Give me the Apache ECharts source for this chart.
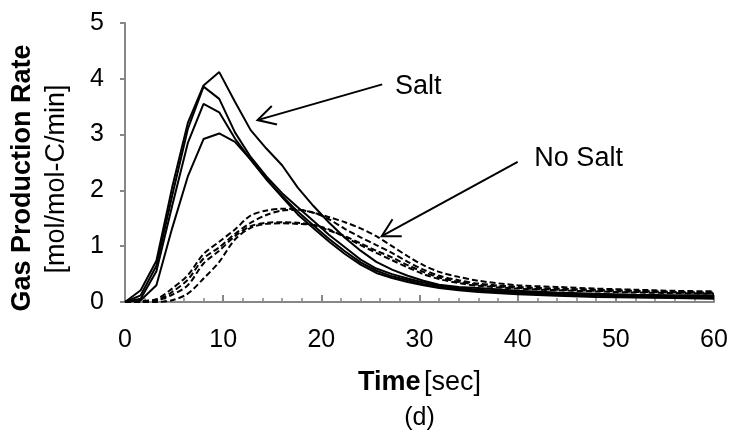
<!DOCTYPE html>
<html>
<head>
<meta charset="utf-8">
<script src="https://cdn.jsdelivr.net/npm/echarts@6/dist/echarts.min.js"></script>
<style>
  html, body { margin: 0; padding: 0; background: #fff; }
  #chart { width: 732px; height: 434px; }
</style>
</head>
<body>
<div id="chart"></div>
<script>
// sample times [sec]
const times = [0, 1.6, 3.2, 4.8, 6.4, 8, 9.6, 11.2, 12.8, 14.4, 16, 17.6, 19.2, 20.8, 22.4,
  24, 25.6, 27.2, 28.8, 30.4, 32, 34, 36, 40, 44, 48, 52, 56, 60];

// Salt runs (solid)
const salt1 = [0, 0.21, 0.74, 2.05, 3.21, 3.88, 4.12, 3.59, 3.08, 2.75, 2.45, 2.05, 1.72, 1.42, 1.15,
  0.92, 0.72, 0.58, 0.47, 0.38, 0.31, 0.27, 0.25, 0.2, 0.17, 0.15, 0.13, 0.12, 0.12];
const salt2 = [0, 0.12, 0.65, 1.9, 3.1, 3.86, 3.64, 3.04, 2.6, 2.25, 1.95, 1.7, 1.45, 1.2, 0.98,
  0.76, 0.6, 0.5, 0.42, 0.35, 0.29, 0.25, 0.22, 0.18, 0.15, 0.13, 0.11, 0.1, 0.1];
const salt3 = [0, 0.06, 0.55, 1.72, 2.85, 3.55, 3.4, 2.93, 2.55, 2.2, 1.9, 1.62, 1.37, 1.13, 0.91,
  0.71, 0.56, 0.46, 0.39, 0.32, 0.27, 0.23, 0.2, 0.16, 0.13, 0.11, 0.09, 0.08, 0.08];
const salt4 = [0, 0.03, 0.3, 1.32, 2.25, 2.92, 3.02, 2.87, 2.55, 2.2, 1.88, 1.57, 1.32, 1.08, 0.86,
  0.67, 0.52, 0.43, 0.36, 0.3, 0.25, 0.21, 0.18, 0.14, 0.11, 0.09, 0.08, 0.07, 0.06];

// No Salt runs (dashed)
const noSalt1 = [0, 0.02, 0.05, 0.24, 0.48, 0.86, 1.08, 1.3, 1.55, 1.64, 1.67, 1.66, 1.6, 1.52, 1.43,
  1.32, 1.18, 1.0, 0.82, 0.66, 0.54, 0.45, 0.38, 0.3, 0.27, 0.24, 0.22, 0.2, 0.19];
const noSalt2 = [0, 0.01, 0.03, 0.18, 0.4, 0.78, 0.98, 1.22, 1.42, 1.56, 1.64, 1.65, 1.6, 1.48, 1.31,
  1.16, 1.02, 0.88, 0.72, 0.58, 0.47, 0.39, 0.33, 0.27, 0.24, 0.22, 0.2, 0.18, 0.17];
const noSalt3 = [0, 0, 0.02, 0.13, 0.3, 0.69, 0.92, 1.18, 1.36, 1.42, 1.43, 1.42, 1.38, 1.28, 1.18,
  1.05, 0.92, 0.8, 0.66, 0.54, 0.44, 0.36, 0.31, 0.25, 0.22, 0.2, 0.18, 0.17, 0.16];
const noSalt4 = [0, 0, 0, 0.03, 0.15, 0.42, 0.72, 1.12, 1.33, 1.4, 1.41, 1.4, 1.38, 1.3, 1.16,
  1.02, 0.88, 0.75, 0.62, 0.5, 0.41, 0.34, 0.29, 0.24, 0.21, 0.19, 0.17, 0.16, 0.15];

const xTicks = [0, 10, 20, 30, 40, 50, 60];
const yTicks = [0, 1, 2, 3, 4, 5];

const FONT = "'Liberation Sans', Arial, sans-serif";
const AXIS_GRAY = '#878787';

const chart = echarts.init(document.getElementById('chart'));

function pairs(arr) {
  return times.map((t, i) => [t, arr[i]]);
}

function solid(name, arr) {
  return {
    name: name, type: 'line', data: pairs(arr), symbol: 'none',
    lineStyle: { color: '#000', width: 2 }, z: 3
  };
}
function dashed(name, arr) {
  return {
    name: name, type: 'line', data: pairs(arr), symbol: 'none', smooth: 0.3,
    lineStyle: { color: '#000', width: 2, type: [6, 3] }, z: 2
  };
}

var option = {
  animation: false,
  backgroundColor: '#fff',
  grid: { left: 125, right: 18, top: 23, bottom: 132 },
  xAxis: {
    type: 'value',
    min: xTicks[0], max: xTicks[xTicks.length - 1], interval: 10,
    axisLine: { lineStyle: { color: AXIS_GRAY, width: 2 } },
    axisTick: { inside: true, length: 7, lineStyle: { color: AXIS_GRAY, width: 2 } },
    minorTick: { show: true, splitNumber: 5, length: 4, lineStyle: { color: AXIS_GRAY, width: 1.5 } },
    splitLine: { show: false },
    axisLabel: { color: '#000', fontSize: 25, fontFamily: FONT, margin: 26 }
  },
  yAxis: {
    type: 'value',
    min: yTicks[0], max: yTicks[yTicks.length - 1], interval: 1,
    axisLine: { show: true, lineStyle: { color: AXIS_GRAY, width: 2 } },
    axisTick: { show: true, length: 5, lineStyle: { color: AXIS_GRAY, width: 2 } },
    splitLine: { show: false },
    axisLabel: { color: '#000', fontSize: 25, fontFamily: FONT, margin: 21 }
  },
  series: [
    dashed('No Salt 1', noSalt1), dashed('No Salt 2', noSalt2),
    dashed('No Salt 3', noSalt3), dashed('No Salt 4', noSalt4),
    solid('Salt 1', salt1), solid('Salt 2', salt2),
    solid('Salt 3', salt3), solid('Salt 4', salt4)
  ]
};
chart.setOption(option);

// annotation arrows, anchored in data coordinates
function arrow(from, tip) {
  const a = chart.convertToPixel({ gridIndex: 0 }, from);
  const b = chart.convertToPixel({ gridIndex: 0 }, tip);
  const ang = Math.atan2(a[1] - b[1], a[0] - b[0]);
  const L = 20, spread = 0.5;
  const h1 = [b[0] + L * Math.cos(ang + spread), b[1] + L * Math.sin(ang + spread)];
  const h2 = [b[0] + L * Math.cos(ang - spread), b[1] + L * Math.sin(ang - spread)];
  return [
    { type: 'line', shape: { x1: a[0], y1: a[1], x2: b[0], y2: b[1] }, style: { stroke: '#000', lineWidth: 2 } },
    { type: 'polyline', shape: { points: [h1, b, h2] }, style: { stroke: '#000', lineWidth: 2, fill: null } }
  ];
}
function label(pos, txt) {
  const p = chart.convertToPixel({ gridIndex: 0 }, pos);
  return {
    type: 'text', x: p[0], y: p[1],
    style: { text: txt, font: '27px ' + FONT, fill: '#000', textAlign: 'left', textVerticalAlign: 'middle' }
  };
}

const gridMidX = 125 + (732 - 125 - 18) / 2;

chart.setOption({
  graphic: [].concat(
    arrow([26.2, 3.9], [13.5, 3.26]),
    arrow([40.0, 2.51], [26.15, 1.18]),
    [
      label([27.5, 3.86], 'Salt'),
      label([41.7, 2.57], 'No Salt'),
      {
        type: 'text', x: 23, y: 178, rotation: Math.PI / 2,
        style: { text: 'Gas Production Rate', font: 'bold 27px ' + FONT, fill: '#000', textAlign: 'center', textVerticalAlign: 'middle' }
      },
      {
        type: 'text', x: 57, y: 179, rotation: Math.PI / 2,
        style: { text: '[mol/mol-C/min]', font: '27px ' + FONT, fill: '#000', textAlign: 'center', textVerticalAlign: 'middle' }
      },
      {
        type: 'text', x: gridMidX, y: 383,
        style: {
          text: '{b|Time} {n|[sec]}', textAlign: 'center', textVerticalAlign: 'middle',
          rich: {
            b: { font: 'bold 27px ' + FONT, fill: '#000' },
            n: { font: '27px ' + FONT, fill: '#000' }
          }
        }
      },
      {
        type: 'text', x: gridMidX, y: 418,
        style: { text: '(d)', font: '25px ' + FONT, fill: '#000', textAlign: 'center', textVerticalAlign: 'middle' }
      }
    ]
  )
});
</script>
</body>
</html>
